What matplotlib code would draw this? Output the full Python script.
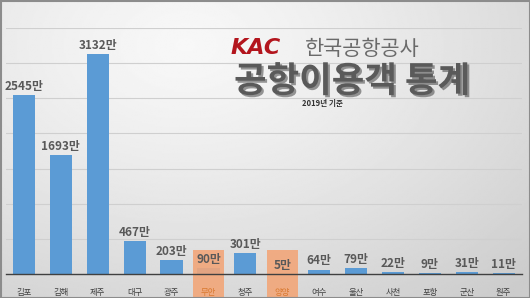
"""2019년 공항별 이용객 막대그래프 재현."""
import matplotlib
matplotlib.use("Agg")
import matplotlib.pyplot as plt
import matplotlib.patheffects as pe
from matplotlib.patches import Rectangle
import numpy as np

plt.rcParams["font.family"] = ["Noto Sans CJK KR", "DejaVu Sans"]

airports = ["김포", "김해", "제주", "대구", "광주", "무안", "청주",
            "양양", "여수", "울산", "사천", "포항", "군산", "원주"]
passengers = [2545, 1693, 3132, 467, 203, 90, 301, 5, 64, 79, 22, 9, 31, 11]  # 만 명
highlight = ["무안", "양양"]

W, H, DPI = 530, 298, 100
BAR_C = "#5b9bd5"
HL_C = "#f2a679"
TXT_C = "#595959"

fig = plt.figure(figsize=(W / DPI, H / DPI), dpi=DPI)

# 배경 그라데이션 (좌상단 밝게, 우하단 어둡게)
bg = fig.add_axes([0, 0, 1, 1], zorder=0)
yy, xx = np.mgrid[0:1:200j, 0:1:300j]
shade = 0.97 - 0.17 * np.clip(np.hypot((xx - 0.35) * 1.1, (yy - 0.15) * 0.9), 0, 1) ** 1.3
bg.imshow(shade, cmap="gray", vmin=0, vmax=1, aspect="auto", extent=[0, 1, 1, 0],
          interpolation="bilinear")
bg.set_xlim(0, 1)
bg.set_ylim(1, 0)
bg.axis("off")

ax = fig.add_axes([5.5 / W, 24 / H, 516.6 / W, 246 / H], zorder=1)
ax.patch.set_alpha(0)
x = np.arange(len(airports))
ax.bar(x, passengers, width=0.6, color=BAR_C, zorder=2)
ax.set_xlim(-0.5, len(airports) - 0.5)
ax.set_ylim(0, 3500)
ax.set_yticks(np.arange(500, 3501, 500))
ax.yaxis.grid(True, color="#cfcfcf", linewidth=0.8, zorder=0)
ax.tick_params(axis="y", left=False, labelleft=False)
ax.tick_params(axis="x", length=0, pad=10)
ax.set_xticks(x)
ax.set_xticklabels(airports, fontsize=6, color="#404040")
ax.xaxis.set_zorder(3.5)
for s in ["top", "right", "left"]:
    ax.spines[s].set_visible(False)
ax.spines["bottom"].set_color("#404040")
ax.spines["bottom"].set_linewidth(1.0)
ax.spines["bottom"].set_zorder(3)

for i, (name, v) in enumerate(zip(airports, passengers)):
    if name in highlight:
        ax.add_patch(Rectangle((i - 0.42, -345), 0.84, 690, facecolor=HL_C,
                               edgecolor="none", alpha=0.9, zorder=2.5, clip_on=False))
        ax.get_xticklabels()[i].set_color("#d9782e")
    ax.annotate(f"{v}만", (i, v), xytext=(0, 1.5), textcoords="offset points",
                ha="center", va="bottom", fontsize=8.5, fontweight="bold",
                color=TXT_C, zorder=4)

# 제목 영역 (픽셀 좌표 오버레이)
ov = fig.add_axes([0, 0, 1, 1], zorder=5)
ov.set_xlim(0, W)
ov.set_ylim(H, 0)
ov.axis("off")
ov.text(231, 54, "KAC", fontsize=16, fontweight="heavy", style="italic",
        color="#b3151d", family="DejaVu Sans", ha="left", va="baseline")
ov.text(305, 55, "한국공항공사", fontsize=15, color="#6a6a6a", ha="left", va="baseline")
ov.text(234, 92, "공항이용객 통계", fontsize=25.5, fontweight="bold", color="#5a5a5a",
        ha="left", va="baseline",
        path_effects=[pe.withSimplePatchShadow(offset=(1.5, -1.5), shadow_rgbFace="#222222",
                                               alpha=0.45)])
ov.text(322, 106, "2019년 기준", fontsize=5.5, fontweight="bold", color="#333333",
        ha="center", va="baseline")

# 테두리
ov.add_patch(Rectangle((0.5, 0.5), W - 1, H - 1, facecolor="none", edgecolor="#8c8c8c",
                       linewidth=1.5))

fig.savefig("out.png", dpi=DPI)
